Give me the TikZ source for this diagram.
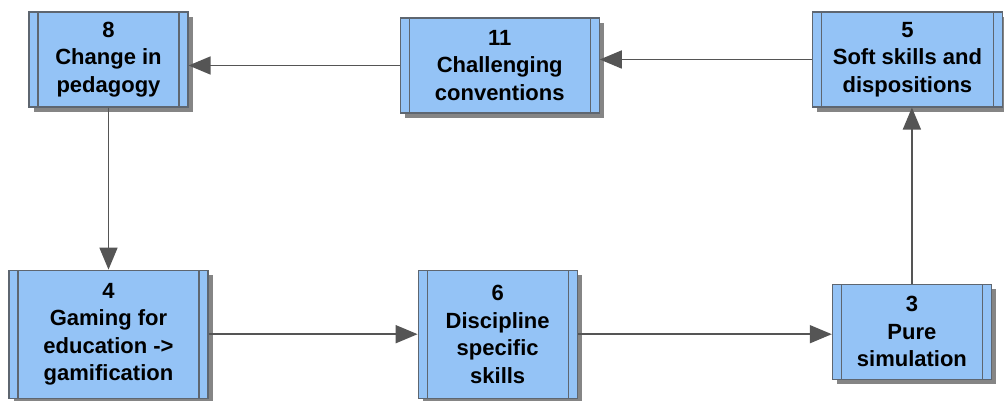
\documentclass[tikz,border=0pt]{standalone}
\usepackage{fontspec}
\setmainfont{Liberation Sans}
\usepackage{tikz}
\usetikzlibrary{arrows.meta}
\usetikzlibrary{positioning}
\usetikzlibrary{shadows}

\definecolor{boxfill}{HTML}{94C3F6}
\definecolor{boxline}{HTML}{5E6670}
\definecolor{arrowgray}{HTML}{555555}

\begin{document}
\begin{tikzpicture}[x=1pt,y=1pt,>={Triangle[length=22pt,width=18pt]},
  proc node/.style={rectangle,draw=boxline,line width=1.2pt,fill=boxfill,
    minimum height=95pt,align=center,inner sep=2pt,
    font=\fontsize{22}{27.5}\selectfont\bfseries,
    drop shadow={shadow xshift=5pt,shadow yshift=-5pt,fill=black!48,opacity=1},
    path picture={
      \draw[boxline,line width=1.2pt]
        ([xshift=9pt]path picture bounding box.north west) --
        ([xshift=9pt]path picture bounding box.south west)
        ([xshift=-9pt]path picture bounding box.north east) --
        ([xshift=-9pt]path picture bounding box.south east);}}]

  \useasboundingbox (0,0) rectangle (1004,401);

  \node[proc node,minimum width=159pt] (8) at (108.5,341.5) {8\\Change in\\pedagogy};
  \node[proc node,minimum width=199pt] (11) [right=211pt of 8,yshift=-6pt] {11\\Challenging\\conventions};
  \node[proc node,minimum width=190pt] (5) [right=212pt of 11,yshift=6pt] {5\\Soft skills and\\dispositions};
  \node[proc node,minimum width=199pt,minimum height=128pt] (4) [below=162pt of 8] {4\\Gaming for\\education ->\\gamification};
  \node[proc node,minimum width=159pt,minimum height=128pt] (6) [right=209pt of 4] {6\\Discipline\\specific\\skills};
  \node[proc node,minimum width=159pt] (3) [right=254pt of 6,yshift=2.5pt] {3\\Pure\\simulation};

  \path[every edge/.style={draw=arrowgray,fill=arrowgray,line width=1.7pt,->}]
    (11.west) edge (11.west -| 8.east)
    (5.west) edge (5.west -| 11.east)
    (8) edge (4)
    (4) edge (6)
    (6.east) edge (6.east -| 3.west)
    (3.north) edge (3.north |- 5.south);
\end{tikzpicture}
\end{document}
